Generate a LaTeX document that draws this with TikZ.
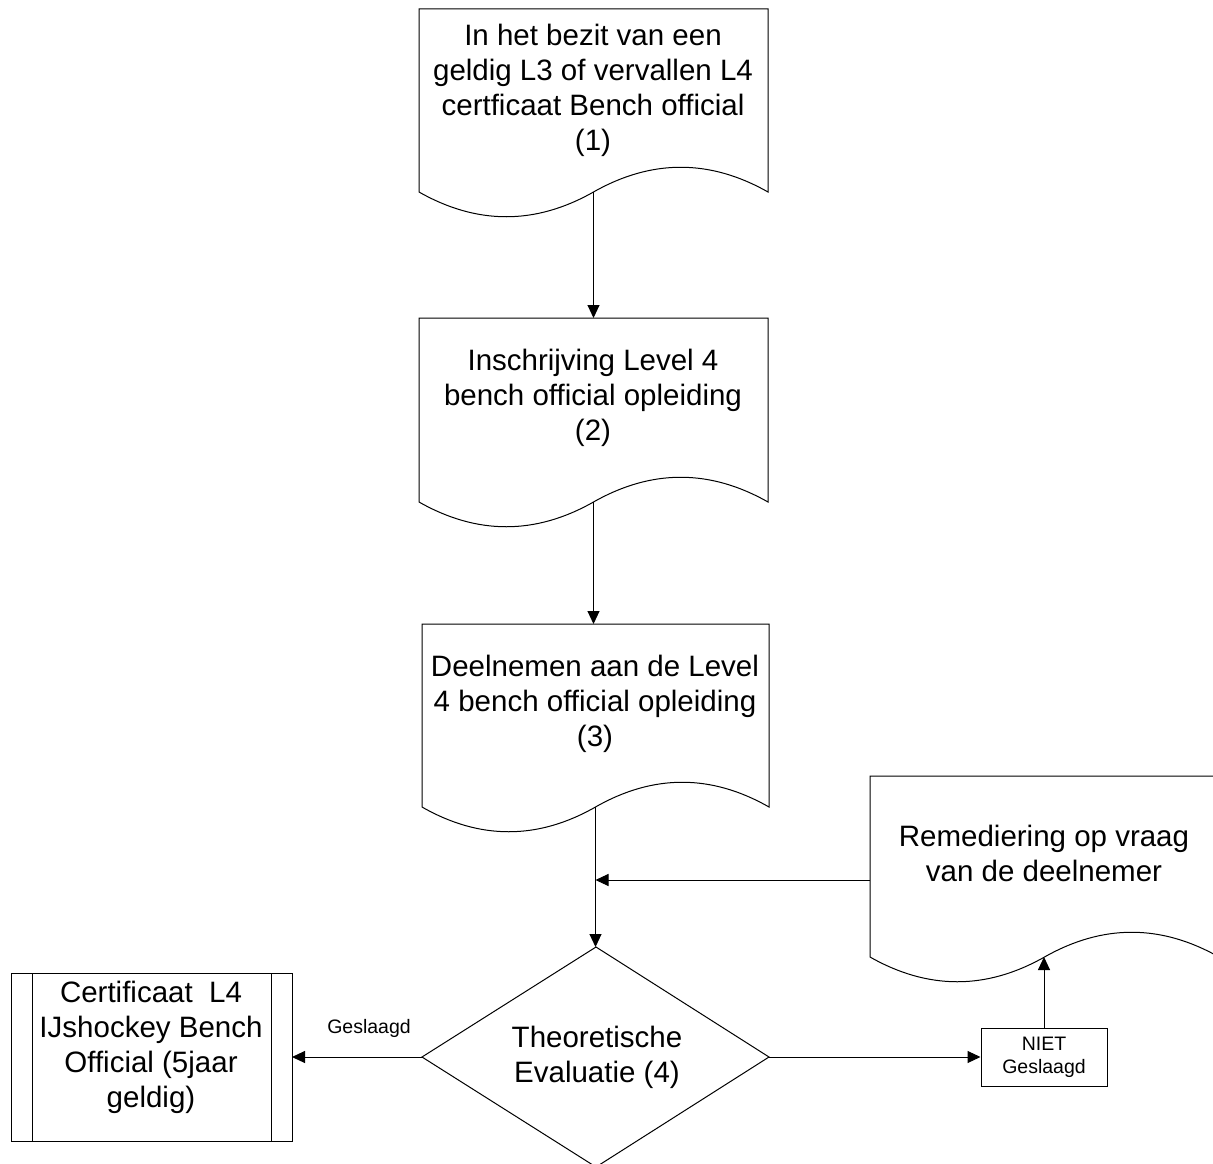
\documentclass[tikz,border=0pt]{standalone}
\usepackage{fontspec}
\setmainfont{Liberation Sans}
\usetikzlibrary{arrows.meta}
\tikzset{
  shapeline/.style={draw=black, line width=1pt, line join=miter},
  arr/.style={draw=black, line width=1pt, -{Triangle[length=13pt,width=12pt]}},
  bigtext/.style={inner sep=0pt, align=center, font=\fontsize{29.5}{35}\selectfont},
  smalltext/.style={inner sep=0pt, align=center, font=\fontsize{19.5}{23}\selectfont},
}
% #1 name, #2 left x, #3 top y, #4 width, #5 side height
\newcommand{\drawdocshape}[5]{%
  \draw[shapeline] (#2,#3) -- (#2+#4,#3) -- (#2+#4,#3+#5)
    .. controls (#2+#4-#4/6,#3+#5-33) and (#2+#4/2+#4/6,#3+#5-33) .. (#2+#4/2,#3+#5)
    .. controls (#2+#4/2-#4/6,#3+#5+33) and (#2+#4/6,#3+#5+33) .. (#2,#3+#5) -- cycle;
  \coordinate (#1-top) at (#2+#4/2,#3);
  \coordinate (#1-bot) at (#2+#4/2,#3+#5);
}
\begin{document}
\begin{tikzpicture}[x=1pt,y=-1pt]
\useasboundingbox (0,0) rectangle (1213,1164);
\fill[white] (0,0) rectangle (1213,1164);

% document shapes
\drawdocshape{b1}{419}{9}{349}{183}
\drawdocshape{b2}{419}{318}{349}{184}
\drawdocshape{b3}{422}{624}{347}{183}
\drawdocshape{rem}{870}{776}{349}{181}
\coordinate (rem-west) at (870,880);
\coordinate (join) at (595.5,880);

\node[bigtext] (t1) at (593,90) {In het bezit van een\\geldig L3 of vervallen L4\\certficaat Bench official\\(1)};
\node[bigtext] (t2) at (593,398) {Inschrijving Level 4\\bench official opleiding\\(2)};
\node[bigtext] (t3) at (595,704) {Deelnemen aan de Level\\4 bench official opleiding\\(3)};
\node[bigtext] (trem) at (1044,853) {Remediering op vraag\\van de deelnemer};

% decision
\draw[shapeline] (596,947) -- (769,1057) -- (596,1167) -- (422,1057) -- cycle;
\coordinate (dia-top) at (596,947);
\coordinate (dia-west) at (422,1057);
\coordinate (dia-east) at (769,1057);
\node[bigtext] (tdia) at (597,1057) {Theoretische\\Evaluatie (4)};

% predefined process
\draw[shapeline] (11,973) rectangle (292,1141);
\draw[shapeline] (32,973) -- (32,1141);
\draw[shapeline] (271,973) -- (271,1141);
\coordinate (cert-east) at (292,1057);
\node[bigtext] (tcert) at (151,1047) {Certificaat\ \ L4\\IJshockey Bench\\Official (5jaar\\geldig)};

% NIET Geslaagd box
\node[smalltext, draw=black, line width=1pt, minimum width=126pt, minimum height=58pt] (niet) at (1044,1057) {NIET\\Geslaagd};

% connectors
\draw[arr] (b1-bot) -- (b2-top);
\draw[arr] (b2-bot) -- (b2-bot |- b3-top);
\draw[arr] (b3-bot) -- (b3-bot |- dia-top);
\draw[arr] (rem-west) -- (join);
\draw[arr] (dia-west) -- (cert-east);
\node[smalltext] (lgesl) at (369,1028) {Geslaagd};
\draw[arr] (dia-east) -- (niet.west);
\draw[arr] (niet.north) -- (niet.north |- rem-bot);
\end{tikzpicture}
\end{document}
